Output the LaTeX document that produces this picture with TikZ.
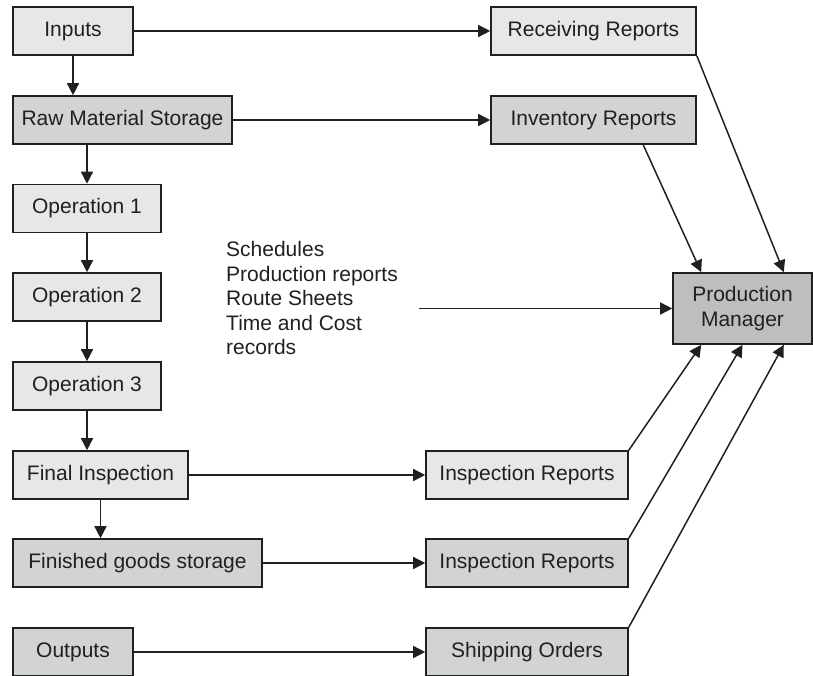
\documentclass[tikz,border=0pt]{standalone}
\usepackage{fontspec}
\setmainfont{Liberation Sans}
\usetikzlibrary{arrows.meta,calc}
\definecolor{ink}{HTML}{231F20}
\definecolor{paleBox}{HTML}{E6E7E8}
\definecolor{midBox}{HTML}{D1D3D4}
\definecolor{darkBox}{HTML}{BCBEC0}

\tikzset{
  box/.style={draw=ink, line width=1.6pt, minimum height=48pt, inner sep=0pt,
              text=ink, font=\fontsize{21}{24.5}\selectfont},
  pale/.style={box, fill=paleBox},
  mid/.style={box, fill=midBox},
  flow/.style={draw=ink, line width=1.5pt, -{Triangle[length=12pt,width=12pt]}},
}

\begin{document}
\begin{tikzpicture}[x=1pt,y=-1pt]
\useasboundingbox (0,0) rectangle (813,676);

% process chain on the left
\node[pale, minimum width=120pt] (inputs) at (73,31)    {Inputs};
\node[mid,  minimum width=219pt] (rms)    at (122.5,120) {Raw Material Storage};
\node[pale, minimum width=148pt] (op1)    at (87,208.5)  {Operation 1};
\node[pale, minimum width=148pt] (op2)    at (87,297)    {Operation 2};
\node[pale, minimum width=148pt] (op3)    at (87,386)    {Operation 3};
\node[pale, minimum width=175pt] (fin)    at (100.5,475) {Final Inspection};
\node[mid,  minimum width=249pt] (fgs)    at (137.5,563) {Finished goods storage};
\node[mid,  minimum width=120pt] (out)    at (73,652)    {Outputs};

% reports
\node[pale, minimum width=205pt] (recv) at (593.5,31)  {Receiving Reports};
\node[mid,  minimum width=205pt] (inv)  at (593.5,120) {Inventory Reports};
\node[pale, minimum width=202pt] (ir1)  at (527,475)   {Inspection Reports};
\node[mid,  minimum width=202pt] (ir2)  at (527,563)   {Inspection Reports};
\node[mid,  minimum width=202pt] (ship) at (527,652)   {Shipping Orders};

% manager
\node[box, fill=darkBox, minimum width=139pt, minimum height=71pt, align=center]
  (pm) at (742.5,308.5) {Production\\Manager};

% documents feeding the manager
\node[anchor=west, align=left, inner sep=0pt, text=ink,
      font=\fontsize{21}{24.5}\selectfont] (docs) at (226,298)
  {Schedules\\Production reports\\Route Sheets\\Time and Cost\\records};
\coordinate (docsout) at (419,308.5);

% vertical flow
\draw[flow] (inputs.south) -- (inputs.south |- rms.north);
\draw[flow] (op1.north |- rms.south) -- (op1.north);
\draw[flow] (op1.south) -- (op2.north);
\draw[flow] (op2.south) -- (op3.north);
\draw[flow] (op3.south) -- (op3.south |- fin.north);
\draw[flow] (fin.south) -- (fin.south |- fgs.north);

% horizontal flow to reports
\draw[flow] (inputs.east) -- (recv.west);
\draw[flow] (rms.east) -- (inv.west);
\draw[flow] (fin.east) -- (ir1.west);
\draw[flow] (fgs.east) -- (ir2.west);
\draw[flow] (out.east) -- (ship.west);
\draw[flow] (docsout) -- (pm.west);

% reports to the manager
\draw[flow] (recv.south east) -- ([xshift=-29pt]pm.north east);
\draw[flow] ([xshift=153pt]inv.south west) -- ([xshift=29pt]pm.north west);
\draw[flow] (ir1.north east) -- ([xshift=29pt]pm.south west);
\draw[flow] (ir2.north east) -- (pm.south);
\draw[flow] (ship.north east) -- ([xshift=-29pt]pm.south east);
\end{tikzpicture}
\end{document}
